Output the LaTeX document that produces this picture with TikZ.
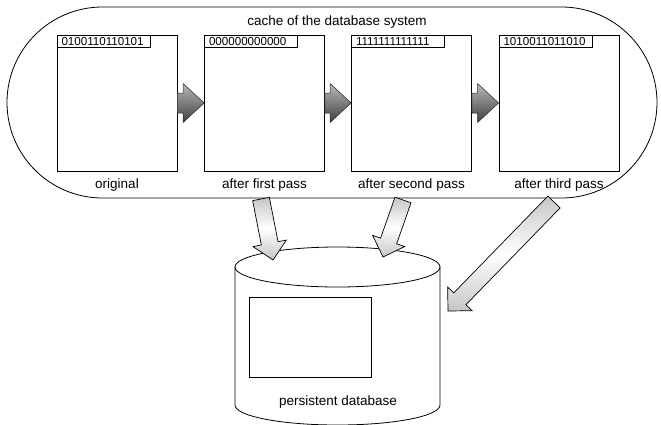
\documentclass[tikz,border=0pt]{standalone}
\usepackage{fontspec}
\setmainfont{Liberation Sans}
\usetikzlibrary{calc}
\makeatletter
% block arrow from coordinate #2 to coordinate #3; #4 half shaft, #5 half head, #6 head length
\newcommand\blockarrow[6]{%
  \pgfpointdiff{\pgfpointanchor{#2}{center}}{\pgfpointanchor{#3}{center}}%
  \pgfgetlastxy{\ba@dx}{\ba@dy}%
  \pgfmathsetmacro\ba@ang{atan2(\ba@dy,\ba@dx)}%
  \pgfmathsetmacro\ba@len{veclen(\ba@dx,\ba@dy)}%
  \pgfmathsetmacro\ba@base{\ba@len-#6}%
  \begin{scope}[shift={(#2)}, rotate=\ba@ang, x=1pt, y=1pt]
    \path[#1] (0,#4) -- (\ba@base,#4) -- (\ba@base,#5) -- (\ba@len,0)
      -- (\ba@base,-#5) -- (\ba@base,-#4) -- (0,-#4) -- cycle;
  \end{scope}}
\makeatother
\tikzset{
  container/.style={draw, line width=0.8pt, rounded corners=95.5pt,
    minimum width=650pt, minimum height=191pt, inner sep=0pt},
  pagebox/.style={draw, line width=0.8pt, fill=white, minimum width=120pt,
    minimum height=136pt, inner sep=0pt},
  tagbox/.style={draw, line width=0.8pt, anchor=north west, inner xsep=4.5pt,
    inner ysep=1.8pt, text width=84pt, align=left, text height=8.4pt, text depth=0pt,
    font=\fontsize{11.6}{12}\selectfont},
  lbl/.style={font=\fontsize{13.5}{15}\selectfont, inner sep=0pt},
  darkarrow/.style={draw=black!85, line width=0.5pt, top color=gray!55, bottom color=black!75},
  lightarrow/.style={draw=black, line width=0.7pt, top color=gray!45,
    bottom color=gray!45, middle color=white},
}
\begin{document}
\begin{tikzpicture}[x=1pt, y=-1pt]
\useasboundingbox (0,0) rectangle (661,424);
% cache container
\node[container] (cache) at (332,102.5) {};
\node[lbl] (title) at (337,22) {cache of the database system};
% pages
\node[pagebox] (b1) at (117,103) {};
\node[pagebox] (b2) at (264.5,103) {};
\node[pagebox] (b3) at (411.5,103) {};
\node[pagebox] (b4) at (559,103) {};
\node[tagbox] (t1) at (b1.north west) {0100110110101};
\node[tagbox] (t2) at (b2.north west) {000000000000};
\node[tagbox] (t3) at (b3.north west) {1111111111111};
\node[tagbox] (t4) at (b4.north west) {1010011011010};
\node[lbl] (l1) at (117,185) {original};
\node[lbl] (l2) at (264.5,185) {after first pass};
\node[lbl] (l3) at (411.5,185) {after second pass};
\node[lbl] (l4) at (559,185) {after third pass};
% dark arrows between pages
\coordinate (d1s) at (b1.east); \coordinate (d1e) at (b2.west);
\coordinate (d2s) at (b2.east); \coordinate (d2e) at (b3.west);
\coordinate (d3s) at (b3.east); \coordinate (d3e) at (b4.west);
\blockarrow{darkarrow}{d1s}{d1e}{10}{19.5}{21}
\blockarrow{darkarrow}{d2s}{d2e}{10}{19.5}{21}
\blockarrow{darkarrow}{d3s}{d3e}{10}{19.5}{21}
% persistent database cylinder
\coordinate (db) at (337.5,336);
\draw[line width=0.8pt, fill=white] (235,267) -- (235,405)
  arc[start angle=180, end angle=0, x radius=102.5, y radius=20] -- (440,267);
\draw[line width=0.8pt] (337.5,267) ellipse [x radius=102.5, y radius=20];
\node[draw, line width=0.8pt, minimum width=122pt, minimum height=80pt, inner sep=0pt]
  (dbpage) at (310,337) {};
\node[lbl] (dblabel) at (338,402) {persistent database};
% light arrows into the database
\coordinate (a1s) at (261,199); \coordinate (a1e) at (273,260);
\coordinate (a2s) at (403,200); \coordinate (a2e) at (383,257);
\coordinate (a3s) at (554,202); \coordinate (a3e) at (448,311);
\blockarrow{lightarrow}{a1s}{a1e}{8.5}{17}{17}
\blockarrow{lightarrow}{a2s}{a2e}{8.5}{17}{17}
\blockarrow{lightarrow}{a3s}{a3e}{8.5}{17}{17}
\end{tikzpicture}
\end{document}
